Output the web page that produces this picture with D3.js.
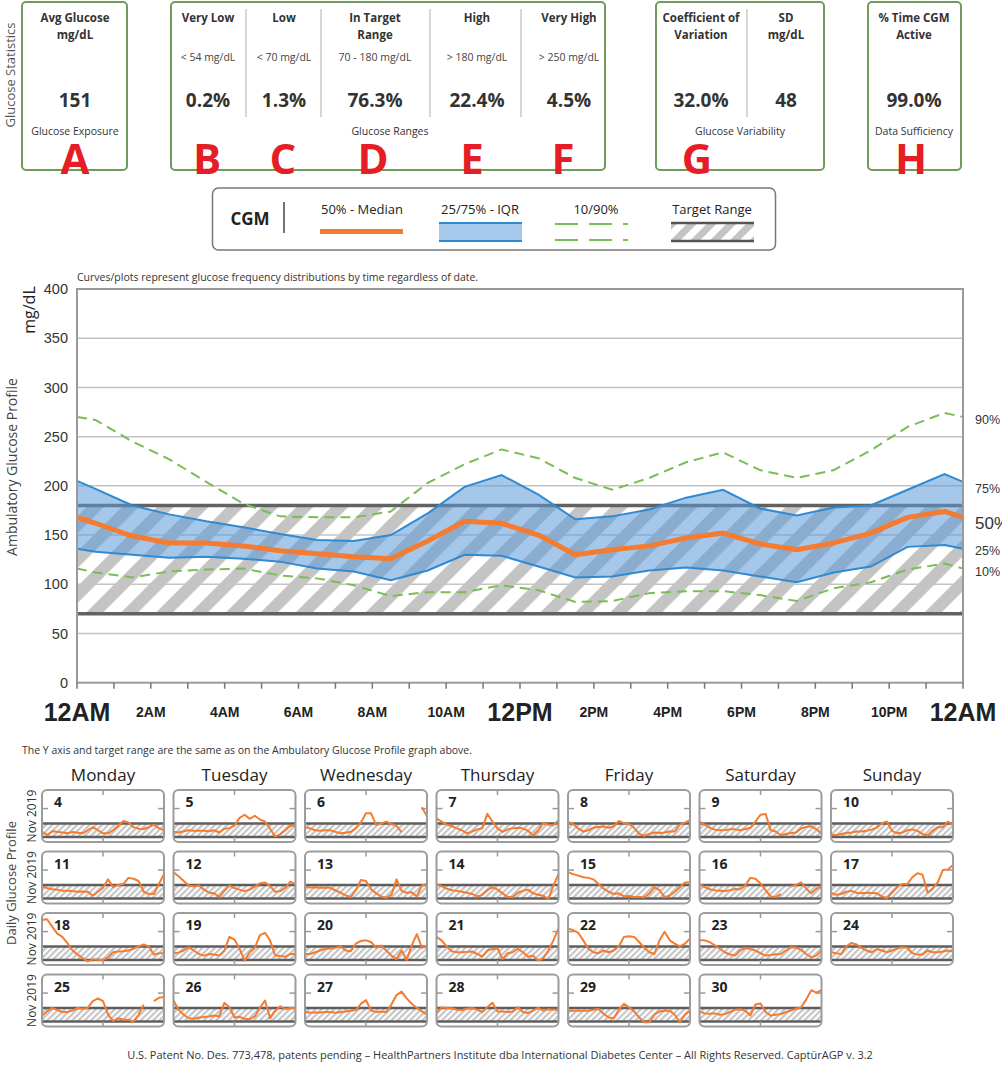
<!DOCTYPE html>
<html>
<head>
<meta charset="utf-8">
<script src="https://cdn.jsdelivr.net/npm/d3@7"></script>
<style>
  body { margin: 0; background: #fff; }
  svg { display: block; }
</style>
</head>
<body>
<script>
// ---- glucose statistics ----
var statTitles = [["Avg Glucose", "mg/dL"], ["Very Low"], ["Low"], ["In Target", "Range"], ["High"], ["Very High"],
                  ["Coefficient of", "Variation"], ["SD", "mg/dL"], ["% Time CGM", "Active"]];
var statRanges = ["", "< 54 mg/dL", "< 70 mg/dL", "70 - 180 mg/dL", "> 180 mg/dL", "> 250 mg/dL", "", "", ""];
var statValues = ["151", "0.2%", "1.3%", "76.3%", "22.4%", "4.5%", "32.0%", "48", "99.0%"];
var groupCaptions = ["Glucose Exposure", "Glucose Ranges", "Glucose Variability", "Data Sufficiency"];
var letters = ["A", "B", "C", "D", "E", "F", "G", "H"];

// ---- ambulatory glucose profile (mg/dL by hour of day) ----
var agpHours = [0, 0.5, 1.5, 2.5, 3.5, 4.5, 5.5, 6.5, 7.5, 8.5, 9.5, 10.5, 11.5, 12.5, 13.5, 14.5, 15.5, 16.5, 17.5, 18.5, 19.5, 20.5, 21.5, 22.5, 23.5, 24];
var p90 = [270, 267, 245, 227, 204, 182, 169, 168, 168, 174, 203, 222, 237, 228, 208, 196, 208, 224, 234, 216, 208, 216, 236, 260, 274, 270];
var p75 = [205, 197, 180, 171, 164, 158, 151, 145, 144, 150, 172, 199, 211, 191, 166, 169, 176, 188, 196, 177, 170, 178, 180, 196, 212, 204];
var p50 = [168, 162, 149, 142, 142, 139, 134, 131, 128, 126, 144, 164, 162, 150, 130, 135, 139, 147, 152, 141, 135, 142, 152, 168, 174, 168];
var p25 = [136, 133, 130, 127, 128, 126, 123, 116, 113, 104, 114, 130, 129, 118, 107, 108, 114, 117, 114, 108, 102, 112, 118, 138, 140, 136];
var p10 = [116, 112, 107, 113, 115, 116, 109, 106, 99, 88, 92, 92, 99, 94, 82, 83, 91, 93, 93, 89, 83, 96, 102, 115, 121, 116];
var yTicks = [0, 50, 100, 150, 200, 250, 300, 350, 400];
var xLabelHours = [0, 2, 4, 6, 8, 10, 12, 14, 16, 18, 20, 22, 24];
var xLabels = ["12AM", "2AM", "4AM", "6AM", "8AM", "10AM", "12PM", "2PM", "4PM", "6PM", "8PM", "10PM", "12AM"];
var targetRange = [70, 180];

// ---- daily glucose profiles, Nov 2019 (hourly readings, null = no data) ----
var weekDays = ["Monday", "Tuesday", "Wednesday", "Thursday", "Friday", "Saturday", "Sunday"];
var dailyDates = [4, 5, 6, 7, 8, 9, 10, 11, 12, 13, 14, 15, 16, 17, 18, 19, 20, 21, 22, 23, 24, 25, 26, 27, 28, 29, 30];
var dailyGlucose = [
  [112, 87, 117, 112, 107, 100, 110, 105, 100, 125, 150, 125, 100, 100, 125, 162, 200, 187, 150, 137, 135, 150, 170, 142, 125],
  [112, 107, 117, 125, 120, 120, 120, 117, 125, 107, 137, 142, 162, 225, 250, 217, 242, 212, 195, 137, 75, 92, 125, 162, 162],
  [150, 140, 125, 120, 125, 125, 112, 100, 105, 112, 142, 187, 262, 262, 167, 180, 195, 175, 160, 110, null, null, null, 310, 237],
  [220, 195, 170, 157, 140, 125, 100, 115, 132, 140, 257, 195, 140, 112, 132, 140, 145, 140, 120, 82, 125, 182, 170, 165, 207],
  [195, 175, 140, 115, 125, 145, 152, 155, 145, 157, 200, 182, 175, 145, 95, 80, 95, 107, 102, 107, 115, 115, 170, 187, 207],
  [195, 170, 145, 130, 125, 127, 132, 132, 125, 135, 145, 195, 250, 257, 125, 115, 85, 95, 102, 107, 140, 152, 157, 132, 102],
  [87, 87, 95, 102, 107, 115, 115, 120, 130, 145, 182, 195, 120, 100, 107, 125, 132, 120, 95, 82, 120, 150, 150, 195, 170],
  [167, 155, 145, 142, 132, 132, 130, 125, 127, 125, 92, 125, 157, 225, 162, 180, 187, 237, 230, 212, 125, 107, 107, 187, 267],
  [282, 250, 212, 175, 167, 175, 142, 117, 112, 82, 132, 175, 155, 142, 130, 142, 167, 192, 200, 170, 125, 130, 157, 207, 187],
  [167, 160, 162, 157, 157, 157, 135, 117, 95, 82, 137, 220, 212, 145, 112, 87, 77, 100, 225, 132, 117, 120, 87, 175, 187],
  [187, 170, 150, 137, 132, 125, 117, 107, 87, 100, 137, 162, 142, 112, 82, 82, 117, 132, 142, 112, 100, 92, 67, 175, 267],
  [282, 267, 255, 242, 237, 225, 187, 150, 125, 107, 112, 87, 92, 82, 82, 80, 112, 162, 137, 82, 92, 125, 162, 200, 200],
  [187, 162, 145, 137, 132, 130, 137, 147, 145, 175, 237, 230, 192, 137, 87, 82, 105, null, 167, 180, 200, 150, 112, 150, 167],
  [117, 100, 107, 125, 132, 117, 112, 117, 115, 112, 87, 75, 117, 162, 187, 187, 242, 275, 262, 117, 150, 200, 300, 305, 342],
  [394, 400, 340, 284, 257, 207, 147, 114, 86, 59, 75, 73, 70, 92, 133, 139, 141, 147, 161, 180, 196, 180, 114, 125, 125],
  [125, 130, 147, 174, 147, 119, 106, 119, 114, 106, 147, 257, 235, 161, 65, 133, 169, 271, 290, 229, 106, 103, 97, 119, 119],
  [119, 119, 133, 147, 161, 163, 169, 180, 147, 141, 202, 224, 229, 216, 169, 188, 147, 106, 78, 147, 70, 188, 279, 169, 188],
  [257, 229, 180, 141, 133, 133, 136, 139, 119, 97, 147, 158, 166, 78, 125, 133, 161, 133, 97, 106, 65, 86, 147, 229, 325],
  [325, 312, 290, 229, 161, 133, 125, 147, 133, 147, 180, 257, 262, 257, 216, 169, 133, 119, 229, 298, 229, 202, 180, 202, 243],
  [229, 229, 216, 188, 161, 133, 114, 106, 147, 169, 158, 147, 125, 106, 111, 117, 119, 147, 174, 169, 152, 119, 92, 106, 147],
  [133, 125, 119, 180, 207, 196, 169, 147, 133, 158, 147, 133, 147, 161, 174, 169, 125, 114, 114, 147, 133, 133, 139, 147, 139],
  [117, 152, 180, 163, 147, 147, 158, 180, 174, 180, 235, 257, 235, 125, 75, 97, 84, 84, 70, 125, 207, null, 235, 262, 268],
  [240, 166, 125, 97, 92, 103, 106, 111, 119, 111, 221, 185, 103, 108, 92, 89, 111, 180, 240, 97, 158, 193, 172, 180, 180],
  [147, 141, 144, 144, 147, 147, 141, 147, 152, 158, 163, 213, 243, 158, 147, 152, 147, 207, 284, 312, 257, 213, 180, 152, 125],
  [139, 185, 180, 177, 166, 163, 174, 180, 166, 147, 185, 221, 152, 152, 147, 152, 185, 147, 139, 158, 180, 158, 169, 166, 166],
  [158, 158, 158, 158, 158, 166, 172, 133, 103, 97, 166, 213, 185, 152, 103, 64, 64, 125, 152, 158, 158, 125, 64, 125, 158],
  [152, 136, 133, 136, 125, 130, 147, 166, 169, 158, 119, 207, 215, 147, 119, 125, 130, 147, 158, 174, 185, 249, 323, 304, 323]
];
var dailyMonth = "Nov 2019";

var ORANGE = "#f47b2f", BLUE = "#2f8ad4", GREEN = "#79bd56", FONT = "'Open Sans', sans-serif", ARIAL = "'Liberation Sans', Arial, sans-serif";

var svg = d3.select("body").append("svg").attr("width", 1002).attr("height", 1068);
var defs = svg.append("defs");

// diagonal hatch patterns
function hatch(id, size, stripe, color) {
  var p = defs.append("pattern").attr("id", id).attr("patternUnits", "userSpaceOnUse")
    .attr("width", size).attr("height", size).attr("patternTransform", "rotate(45)");
  p.append("rect").attr("width", size).attr("height", size).attr("fill", "#fff");
  p.append("rect").attr("width", stripe).attr("height", size).attr("fill", color);
}
hatch("hatchMain", 24.7, 12, "#c4c4c4");
hatch("hatchLegend", 14, 7, "#c4c4c4");
hatch("hatchDaily", 4.4, 2.2, "#c6c6c6");

// ================= statistics boxes =================
var statColX = [75, 208, 284, 375, 477, 569, 701, 786, 914];
var letterX = [75, 207, 283, 373, 472, 563, 697, 911];
var boxes = [{x: 22, w: 105, cx: 75}, {x: 171, w: 434, cx: 390}, {x: 656, w: 168, cx: 740}, {x: 868, w: 93, cx: 914}];
var dividers = [246, 321, 430, 521, 747];

svg.append("text").attr("transform", "translate(15,75) rotate(-90)")
  .attr("text-anchor", "middle").attr("font-family", FONT).attr("font-size", 13).attr("fill", "#555")
  .text("Glucose Statistics");

svg.selectAll(".statbox").data(boxes).enter().append("rect")
  .attr("x", function(d) { return d.x; }).attr("y", 2).attr("width", function(d) { return d.w; }).attr("height", 168)
  .attr("rx", 4).attr("fill", "#fff").attr("stroke", "#6f9c5c").attr("stroke-width", 2);

svg.selectAll(".divider").data(dividers).enter().append("line")
  .attr("x1", function(d) { return d; }).attr("x2", function(d) { return d; })
  .attr("y1", 9).attr("y2", 117).attr("stroke", "#c8c8c8").attr("stroke-width", 1.5);

statTitles.forEach(function(lines, i) {
  lines.forEach(function(t, j) {
    svg.append("text").attr("x", statColX[i]).attr("y", 22 + j * 17)
      .attr("text-anchor", "middle").attr("font-family", FONT).attr("font-weight", "bold")
      .attr("font-size", 11.5).attr("fill", "#333").text(t);
  });
});
svg.selectAll(".range").data(statRanges).enter().append("text")
  .attr("x", function(d, i) { return statColX[i]; }).attr("y", 61)
  .attr("text-anchor", "middle").attr("font-family", FONT).attr("font-size", 10.5).attr("fill", "#444")
  .text(function(d) { return d; });
svg.selectAll(".value").data(statValues).enter().append("text")
  .attr("x", function(d, i) { return statColX[i]; }).attr("y", 107)
  .attr("text-anchor", "middle").attr("font-family", FONT).attr("font-weight", "bold")
  .attr("font-size", 19).attr("fill", "#333").text(function(d) { return d; });
svg.selectAll(".caption").data(groupCaptions).enter().append("text")
  .attr("x", function(d, i) { return boxes[i].cx; }).attr("y", 135)
  .attr("text-anchor", "middle").attr("font-family", FONT).attr("font-size", 10.5).attr("fill", "#333")
  .text(function(d) { return d; });
svg.selectAll(".letter").data(letters).enter().append("text")
  .attr("x", function(d, i) { return letterX[i]; }).attr("y", 174)
  .attr("text-anchor", "middle").attr("font-family", FONT).attr("font-weight", "bold")
  .attr("font-size", 42).attr("fill", "#e51d24").text(function(d) { return d; });

// ================= legend =================
var lg = svg.append("g");
lg.append("rect").attr("x", 212.5).attr("y", 188).attr("width", 563).attr("height", 62).attr("rx", 6)
  .attr("fill", "#fff").attr("stroke", "#777").attr("stroke-width", 1.5);
lg.append("text").attr("x", 250).attr("y", 225).attr("text-anchor", "middle").attr("font-family", FONT)
  .attr("font-weight", "bold").attr("font-size", 17).attr("fill", "#222").text("CGM");
lg.append("line").attr("x1", 284).attr("x2", 284).attr("y1", 202).attr("y2", 233).attr("stroke", "#444").attr("stroke-width", 1.5);
var legendItems = [["50% - Median", 362], ["25/75% - IQR", 480], ["10/90%", 596], ["Target Range", 712]];
legendItems.forEach(function(d) {
  lg.append("text").attr("x", d[1]).attr("y", 214).attr("text-anchor", "middle").attr("font-family", FONT)
    .attr("font-size", 13).attr("fill", "#222").text(d[0]);
});
lg.append("rect").attr("x", 320).attr("y", 229).attr("width", 83).attr("height", 5).attr("fill", ORANGE);
lg.append("rect").attr("x", 439).attr("y", 223).attr("width", 83).attr("height", 18).attr("fill", "#a6c8ec");
[223, 241].forEach(function(y) {
  lg.append("line").attr("x1", 439).attr("x2", 522).attr("y1", y).attr("y2", y).attr("stroke", BLUE).attr("stroke-width", 2);
});
[224, 240].forEach(function(y) {
  lg.append("line").attr("x1", 555).attr("x2", 628).attr("y1", y).attr("y2", y).attr("stroke", GREEN)
    .attr("stroke-width", 2).attr("stroke-dasharray", "23,11");
});
lg.append("rect").attr("x", 671).attr("y", 223).attr("width", 83).attr("height", 18).attr("fill", "url(#hatchLegend)");
[223, 241].forEach(function(y) {
  lg.append("line").attr("x1", 671).attr("x2", 754).attr("y1", y).attr("y2", y).attr("stroke", "#555").attr("stroke-width", 2.5);
});

// ================= ambulatory glucose profile =================
var x = d3.scaleLinear().domain([0, 24]).range([77, 963]);
var y = d3.scaleLinear().domain([0, 400]).range([682.7, 289]);

svg.append("text").attr("x", 77).attr("y", 281).attr("font-family", FONT).attr("font-size", 10.5).attr("fill", "#333")
  .text("Curves/plots represent glucose frequency distributions by time regardless of date.");

var agp = svg.append("g");
agp.append("rect").attr("x", x(0)).attr("y", y(400)).attr("width", x(24) - x(0)).attr("height", y(0) - y(400))
  .attr("fill", "#fff");

// target band
agp.append("rect").attr("x", x(0)).attr("y", y(targetRange[1])).attr("width", x(24) - x(0))
  .attr("height", y(targetRange[0]) - y(targetRange[1])).attr("fill", "url(#hatchMain)");

// grid
agp.selectAll(".grid").data(yTicks.slice(1, -1)).enter().append("line")
  .attr("x1", x(0)).attr("x2", x(24)).attr("y1", function(d) { return y(d); }).attr("y2", function(d) { return y(d); })
  .attr("stroke", "#c4c4c4").attr("stroke-width", 1.5);

agp.selectAll(".tline").data(targetRange).enter().append("line")
  .attr("x1", x(0)).attr("x2", x(24)).attr("y1", function(d) { return y(d); }).attr("y2", function(d) { return y(d); })
  .attr("stroke", "#626262").attr("stroke-width", 3.5);

var rows = agpHours.map(function(h, i) { return {h: h, p10: p10[i], p25: p25[i], p50: p50[i], p75: p75[i], p90: p90[i]}; });

agp.append("path").datum(rows)
  .attr("d", d3.area().x(function(d) { return x(d.h); }).y0(function(d) { return y(d.p25); }).y1(function(d) { return y(d.p75); }))
  .attr("fill", "#5b9bd8").attr("fill-opacity", 0.55);

function lineFor(key) {
  return d3.line().x(function(d) { return x(d.h); }).y(function(d) { return y(d[key]); });
}
["p25", "p75"].forEach(function(k) {
  agp.append("path").datum(rows).attr("d", lineFor(k)).attr("fill", "none").attr("stroke", BLUE).attr("stroke-width", 2);
});
["p10", "p90"].forEach(function(k) {
  agp.append("path").datum(rows).attr("d", lineFor(k)).attr("fill", "none").attr("stroke", GREEN)
    .attr("stroke-width", 2).attr("stroke-dasharray", "10,6");
});
agp.append("path").datum(rows).attr("d", lineFor("p50")).attr("fill", "none").attr("stroke", ORANGE)
  .attr("stroke-width", 5).attr("stroke-linejoin", "round");

// frame
agp.append("rect").attr("x", x(0)).attr("y", y(400)).attr("width", x(24) - x(0)).attr("height", y(0) - y(400))
  .attr("fill", "none").attr("stroke", "#9a9a9a").attr("stroke-width", 2);

// y axis labels
agp.selectAll(".ylab").data(yTicks).enter().append("text")
  .attr("x", 68).attr("y", function(d) { return y(d); }).attr("dy", "0.36em")
  .attr("text-anchor", "end").attr("font-family", ARIAL).attr("font-size", 14.5).attr("fill", "#333")
  .text(function(d) { return d; });
svg.append("text").attr("transform", "translate(35,310) rotate(-90)").attr("text-anchor", "middle")
  .attr("font-family", FONT).attr("font-size", 16).attr("fill", "#222").text("mg/dL");
svg.append("text").attr("transform", "translate(17,467) rotate(-90)").attr("text-anchor", "middle")
  .attr("font-family", FONT).attr("font-size", 14).attr("fill", "#444").text("Ambulatory Glucose Profile");

// x ticks and labels
agp.selectAll(".xtick").data(d3.range(0, 25)).enter().append("line")
  .attr("x1", function(d) { return x(d); }).attr("x2", function(d) { return x(d); })
  .attr("y1", y(0)).attr("y2", y(0) + 6).attr("stroke", "#777").attr("stroke-width", 1.5);
agp.selectAll(".xlab").data(xLabelHours).enter().append("text")
  .attr("x", function(d) { return x(d); })
  .attr("y", function(d) { return d % 12 === 0 ? 721 : 717; })
  .attr("text-anchor", "middle").attr("font-family", ARIAL).attr("font-weight", "bold")
  .attr("font-size", function(d) { return d % 12 === 0 ? 25 : 14; }).attr("fill", "#222")
  .text(function(d, i) { return xLabels[i]; });

// right-hand percentile labels at the curve end values
var endLabels = [["90%", p90, 3, 12.5], ["75%", p75, 7, 12.5], ["50%", p50, 6, 17], ["25%", p25, 2, 12.5], ["10%", p10, 3, 12.5]];
endLabels.forEach(function(d) {
  agp.append("text").attr("x", 975).attr("y", y(d[1][d[1].length - 1]) + d[2]).attr("dy", "0.36em")
    .attr("font-family", ARIAL).attr("font-size", d[3]).attr("fill", "#333").text(d[0]);
});

// ================= daily glucose profiles =================
svg.append("text").attr("x", 22).attr("y", 754).attr("font-family", FONT).attr("font-size", 10.5).attr("fill", "#333")
  .text("The Y axis and target range are the same as on the Ambulatory Glucose Profile graph above.");

var panelX0 = 42, panelPitchX = 131.5, panelW = 122, panelY0 = 790, panelPitchY = 61.5, panelH = 52;

svg.selectAll(".wday").data(weekDays).enter().append("text")
  .attr("x", function(d, i) { return panelX0 + i * panelPitchX + panelW / 2; }).attr("y", 781)
  .attr("text-anchor", "middle").attr("font-family", FONT).attr("font-size", 17).attr("fill", "#222")
  .text(function(d) { return d; });

var nRows = Math.ceil(dailyDates.length / 7);
d3.range(nRows).forEach(function(r) {
  svg.append("text").attr("transform", "translate(36," + (panelY0 + r * panelPitchY + panelH / 2) + ") rotate(-90)")
    .attr("text-anchor", "middle").attr("font-family", FONT).attr("font-size", 12).attr("fill", "#333").text(dailyMonth);
});
svg.append("text").attr("transform", "translate(16,883) rotate(-90)").attr("text-anchor", "middle")
  .attr("font-family", FONT).attr("font-size", 13).attr("fill", "#444").text("Daily Glucose Profile");

var dy = d3.scaleLinear().domain([30, 450]).range([panelH, 0]);

dailyDates.forEach(function(day, i) {
  var col = i % 7, row = Math.floor(i / 7);
  var px = panelX0 + col * panelPitchX, py = panelY0 + row * panelPitchY;
  var dx = d3.scaleLinear().domain([0, 24]).range([0, panelW]);
  var g = svg.append("g").attr("transform", "translate(" + px + "," + py + ")");
  defs.append("clipPath").attr("id", "clip" + day).append("rect").attr("width", panelW).attr("height", panelH).attr("rx", 5);

  g.append("rect").attr("width", panelW).attr("height", panelH).attr("rx", 5).attr("fill", "#fff");
  g.append("rect").attr("x", 0).attr("y", dy(targetRange[1])).attr("width", panelW)
    .attr("height", dy(targetRange[0]) - dy(targetRange[1])).attr("fill", "url(#hatchDaily)");
  g.selectAll(".tl").data(targetRange).enter().append("line")
    .attr("x1", 0).attr("x2", panelW).attr("y1", function(d) { return dy(d); }).attr("y2", function(d) { return dy(d); })
    .attr("stroke", "#5e5e5e").attr("stroke-width", 2.5);

  // small ticks
  g.append("line").attr("x1", dx(12)).attr("x2", dx(12)).attr("y1", 0).attr("y2", 5).attr("stroke", "#999").attr("stroke-width", 1.5);
  g.append("line").attr("x1", dx(12)).attr("x2", dx(12)).attr("y1", panelH).attr("y2", panelH - 5).attr("stroke", "#999").attr("stroke-width", 1.5);
  g.append("line").attr("x1", 0).attr("x2", 6).attr("y1", dy(300)).attr("y2", dy(300)).attr("stroke", "#999").attr("stroke-width", 1.5);
  g.append("line").attr("x1", panelW - 6).attr("x2", panelW).attr("y1", dy(300)).attr("y2", dy(300)).attr("stroke", "#999").attr("stroke-width", 1.5);

  g.append("path").datum(dailyGlucose[i]).attr("clip-path", "url(#clip" + day + ")")
    .attr("d", d3.line().defined(function(v) { return v !== null; })
      .x(function(v, h) { return dx(h); }).y(function(v) { return dy(v); }))
    .attr("fill", "none").attr("stroke", ORANGE).attr("stroke-width", 2).attr("stroke-linejoin", "round");

  g.append("rect").attr("width", panelW).attr("height", panelH).attr("rx", 5)
    .attr("fill", "none").attr("stroke", "#9c9c9c").attr("stroke-width", 2);
  g.append("text").attr("x", 12).attr("y", 17).attr("font-family", FONT).attr("font-weight", "bold")
    .attr("font-size", 14).attr("fill", "#222").text(day);
});

svg.append("text").attr("x", 500).attr("y", 1059).attr("text-anchor", "middle").attr("font-family", FONT)
  .attr("font-size", 11).attr("fill", "#333")
  .text("U.S. Patent No. Des. 773,478, patents pending \u2013 HealthPartners Institute dba International Diabetes Center \u2013 All Rights Reserved. Capt\u016brAGP v. 3.2");
</script>
</body>
</html>
